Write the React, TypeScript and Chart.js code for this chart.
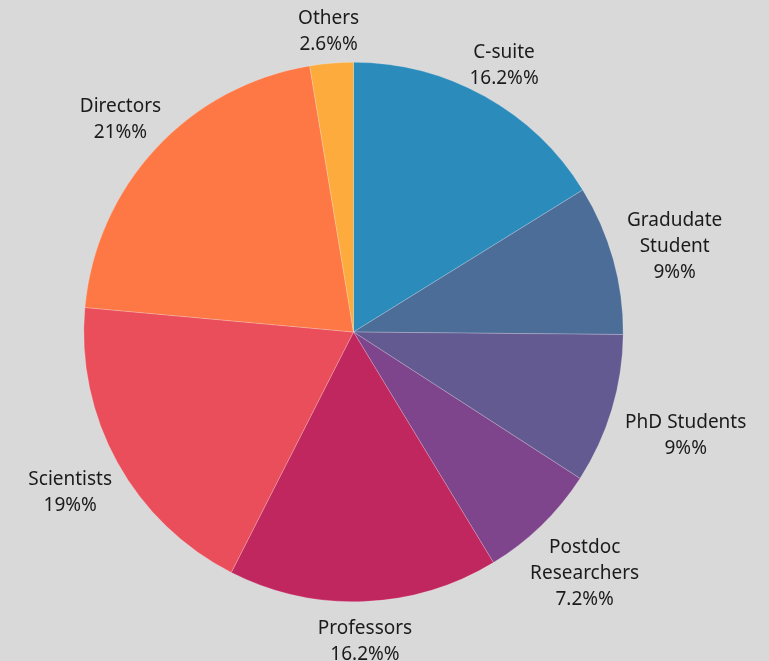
import React, { useEffect, useRef } from "react";
import { Chart, registerables } from "chart.js";

Chart.register(...registerables);

const categories: string[] = [
  "C-suite",
  "Gradudate Student",
  "PhD Students",
  "Postdoc Researchers",
  "Professors",
  "Scientists",
  "Directors",
  "Others",
];

const shares: number[] = [16.2, 9, 9, 7.2, 16.2, 19, 21, 2.6];

const sliceColors: string[] = [
  "#2b8bba",
  "#4d6d99",
  "#625a91",
  "#7e448c",
  "#c1275f",
  "#ea4e5a",
  "#fd7844",
  "#fdab3d",
];

const FONT_FAMILY = "'Noto Sans', sans-serif";
const FONT_SIZE = 19;
const LINE_H = 26;
const GAP = 10;
const WIDTH_FACTOR = 1.15;
const TEXT_DROP = 4;

function wrapLabel(s: string): string[] {
  if (s.length > 12 && s.indexOf(" ") > 0) return s.split(" ");
  return [s];
}

const outsideLabels = {
  id: "outsideLabels",
  afterDatasetsDraw(chart: any) {
    const ctx = chart.ctx;
    const meta = chart.getDatasetMeta(0);
    const data = chart.data.datasets[0].data as number[];
    const labels = chart.data.labels as string[];
    ctx.save();
    ctx.font = `${FONT_SIZE}px ${FONT_FAMILY}`;
    ctx.fillStyle = "#1b1b1b";
    ctx.textAlign = "center";
    ctx.textBaseline = "middle";
    meta.data.forEach((arc: any, i: number) => {
      const p = arc.getProps(["x", "y", "startAngle", "endAngle", "outerRadius"], true);
      const mid = (p.startAngle + p.endAngle) / 2;
      const vx = Math.cos(mid);
      const vy = Math.sin(mid);
      const lines = [...wrapLabel(labels[i]), `${data[i]}%%`];
      let w = 0;
      lines.forEach((l) => (w = Math.max(w, ctx.measureText(l).width)));
      const hw = (w / 2) * WIDTH_FACTOR;
      const hh = (lines.length * LINE_H) / 2;
      const ell = Math.sqrt((hw * vx) ** 2 + (hh * vy) ** 2);
      const d = p.outerRadius + GAP + ell;
      const cx = p.x + vx * d;
      const cy = p.y + vy * d + TEXT_DROP;
      lines.forEach((l, k) => {
        const ly = cy - hh + LINE_H / 2 + k * LINE_H;
        ctx.fillText(l, cx, ly);
      });
    });
    ctx.restore();
  },
};

export default function App() {
  const ref = useRef<HTMLCanvasElement | null>(null);
  useEffect(() => {
    document.body.style.margin = "0";
    document.body.style.background = "#d9d9d9";
    if (!ref.current) return;
    const chart = new Chart(ref.current, {
      type: "pie",
      data: {
        labels: categories,
        datasets: [
          {
            data: shares,
            backgroundColor: sliceColors,
            borderColor: "rgba(255,255,255,0.35)",
            borderWidth: 0.6,
          },
        ],
      },
      options: {
        animation: false,
        responsive: false,
        maintainAspectRatio: false,
        layout: { padding: { top: 62, bottom: 59, left: 83.5, right: 145.5 } },
        plugins: {
          legend: { display: false },
          tooltip: { enabled: false },
        },
      },
      plugins: [outsideLabels],
    });
    return () => chart.destroy();
  }, []);
  return (
    <div style={{ width: 769, height: 661, background: "#d9d9d9" }}>
      <canvas ref={ref} width={769} height={661} style={{ display: "block" }} />
    </div>
  );
}
